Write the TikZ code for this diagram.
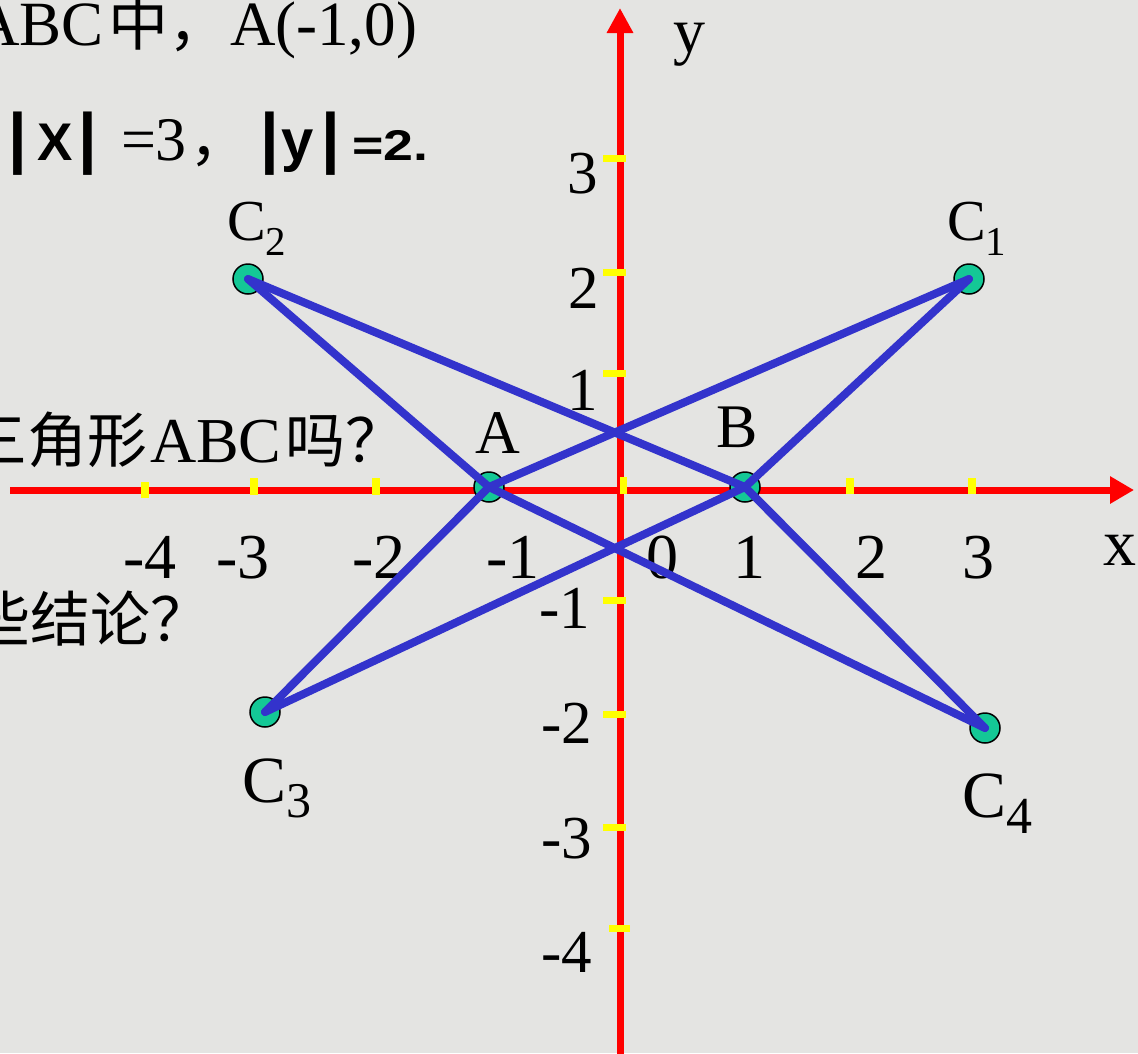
\documentclass[tikz,border=0pt]{standalone}
\usepackage{fontspec}
\usepackage{graphicx}
\setmainfont{Liberation Serif}
\setsansfont{Liberation Sans}
\newfontfamily\cjk{Noto Sans CJK SC}
\usetikzlibrary{arrows.meta}
\definecolor{bgc}{RGB}{228,228,226}
\definecolor{axred}{RGB}{255,0,0}
\definecolor{tickc}{RGB}{255,255,0}
\definecolor{dotc}{RGB}{20,200,150}
\definecolor{lineblue}{RGB}{51,51,204}
\newcommand\fs[1]{\fontsize{#1}{#1}\selectfont}
\newcommand\Clab[4]{\fs{#1}C\raisebox{-#4pt}{\fs{#2}#3}}
\begin{document}
\begin{tikzpicture}[x=1pt,y=-1pt,
  txt/.style={inner sep=0pt, outer sep=0pt},
  num/.style={txt, anchor=base, font=\fs{64}},
  ynum/.style={txt, anchor=base, font=\fs{61}},
  axisline/.style={draw=axred, line width=7pt},
  dotnode/.style={circle, draw=black, line width=1.5pt, fill=dotc, minimum size=30pt, inner sep=0pt},
  edgeline/.style={draw=lineblue, line width=8pt, line cap=round},
  cjktxt/.style={txt, font=\cjk\fs{60}},
  bartxt/.style={txt, anchor=base west, font=\sffamily\bfseries\fs{67}}]
\useasboundingbox (0,0) rectangle (1138,1053);
\clip (0,0) rectangle (1138,1053);
\fill[bgc] (0,0) rectangle (1138,1053);

% text lines
\node[txt, anchor=base east, font=\fs{63}] (t1a) at (104,45) {ABC};
\node[cjktxt, anchor=base west] (t1b) at (108,45) {中，};
\node[txt, anchor=base west, font=\fs{63}] (t1c) at (230,45) {A(-1,0)};

\node[bartxt] (b1) at (9,160) {|};
\node[txt, anchor=base west, font=\sffamily\bfseries\fs{53}] (t2x) at (37,160) {X};
\node[bartxt] (b2) at (78,160) {|};
\node[txt, anchor=base west, font=\fs{62}] (t2e) at (121,160) {=3};
\node[cjktxt, anchor=base west] (t2c) at (189,160) {，};
\node[bartxt] (b3) at (260,160) {|};
\node[txt, anchor=base west, font=\sffamily\bfseries\fs{58}] (t2y) at (281,160) {y};
\node[bartxt] (b4) at (321,160) {|};
\node[txt, anchor=base west, font=\sffamily\bfseries\fs{43}] (t2f) at (352,160) {\scalebox{1.25}[1]{=2.}};

\node[cjktxt, anchor=base east] (t3a) at (148,462) {三角形};
\node[txt, anchor=base west, font=\fs{64}] (t3b) at (150,462) {ABC};
\node[cjktxt, anchor=base west] (t3c) at (285,462) {吗？};

\node[cjktxt, anchor=base west] (t4) at (-29,641) {些结论？};

% axes
\coordinate (xl) at (10,490);
\coordinate (xr) at (1134,490);
\coordinate (yb) at (620,1060);
\coordinate (yt) at (620,8);
\draw[axisline, -{Triangle[length=24pt,width=26pt]}] (xl) -- (xr);
\draw[axisline, -{Triangle[length=25pt,width=25pt]}] (yb) -- (yt);

% ticks
\fill[tickc] (141,482) rectangle (149,498);
\fill[tickc] (250,478) rectangle (258,495);
\fill[tickc] (372,478) rectangle (380,495);
\fill[tickc] (620,477) rectangle (627,494);
\fill[tickc] (846,478) rectangle (854,494);
\fill[tickc] (968,478) rectangle (976,494);
\fill[tickc] (603,155) rectangle (626,162);
\fill[tickc] (603,269) rectangle (626,276);
\fill[tickc] (603,370) rectangle (626,377);
\fill[tickc] (603,597) rectangle (626,604);
\fill[tickc] (603,711) rectangle (626,718);
\fill[tickc] (603,824) rectangle (626,831);
\fill[tickc] (609,925) rectangle (630,932);

% axis labels
\node[num] (nm4) at (150,578) {-4};
\node[num] (nm3) at (243,578) {-3};
\node[num] (nm2) at (379,578) {-2};
\node[num] (nm1) at (513,578) {-1};
\node[num] (n0) at (662,578) {0};
\node[num] (n1) at (749,578) {1};
\node[num] (n2) at (871,578) {2};
\node[num] (n3) at (978,578) {3};
\node[txt, anchor=base, font=\fs{66}] (xlab) at (1120,565) {x};
\node[txt, anchor=base, font=\fs{64}] (ylab) at (689,52) {y};

\node[ynum] (y3) at (583,193) {3};
\node[ynum] (y2) at (584,308) {2};
\node[ynum] (y1) at (583,410) {1};
\node[ynum] (ym1) at (565,628) {-1};
\node[ynum] (ym2) at (567,743) {-2};
\node[ynum] (ym3) at (567,858) {-3};
\node[ynum] (ym4) at (567,972) {-4};

% points
\node[dotnode] (A) at (489,487) {};
\node[dotnode] (B) at (745,487) {};
\node[dotnode] (C1) at (969,279) {};
\node[dotnode] (C2) at (248,279) {};
\node[dotnode] (C3) at (265,712) {};
\node[dotnode] (C4) at (985,728) {};

\node[txt, anchor=base, font=\fs{62}] (lA) at (498,453) {A};
\node[txt, anchor=base, font=\fs{62}] (lB) at (737,447) {B};
\node[txt, anchor=base west] (lC1) at (947,240) {\Clab{58}{41}{1}{15}};
\node[txt, anchor=base west] (lC2) at (227,240) {\Clab{58}{41}{2}{15}};
\node[txt, anchor=base west] (lC3) at (242,802) {\Clab{66}{50}{3}{15}};
\node[txt, anchor=base west] (lC4) at (962,817) {\Clab{66}{52}{4}{16}};

% triangle sides
\draw[edgeline] (A.center) -- (C1.center);
\draw[edgeline] (B.center) -- (C1.center);
\draw[edgeline] (A.center) -- (C2.center);
\draw[edgeline] (B.center) -- (C2.center);
\draw[edgeline] (A.center) -- (C3.center);
\draw[edgeline] (B.center) -- (C3.center);
\draw[edgeline] (A.center) -- (C4.center);
\draw[edgeline] (B.center) -- (C4.center);
\end{tikzpicture}
\end{document}
